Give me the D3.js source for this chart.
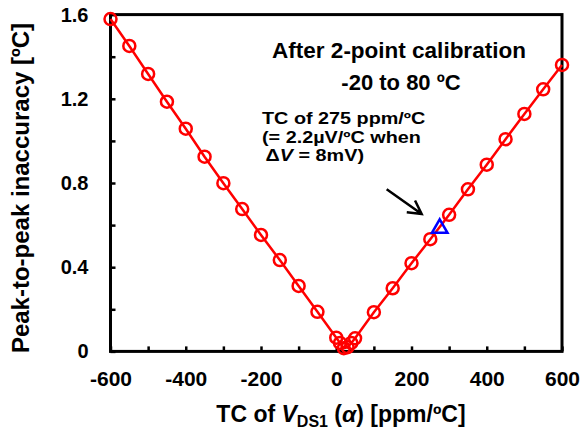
<!DOCTYPE html>
<html>
<head>
<meta charset="utf-8">
<script src="https://cdn.jsdelivr.net/npm/d3@7"></script>
<style>
  body { margin: 0; background: #fff; }
  text { font-family: "Liberation Sans", Arial, sans-serif; font-weight: bold; fill: #000; }
</style>
</head>
<body>
<svg id="chart" width="583" height="434"></svg>
<script>
// TC of V_DS1 [ppm/ºC] and peak-to-peak inaccuracy [ºC]
var tcValues = [-600, -550, -500, -450, -400, -350, -300, -250, -200, -150, -100, -50,
                0, 10, 20, 30, 40, 50,
                100, 150, 200, 250, 300, 350, 400, 450, 500, 550, 600]
var inaccuracy = [1.579, 1.451, 1.318, 1.186, 1.058, 0.925, 0.799, 0.676, 0.553, 0.434, 0.311, 0.188,
                  0.065, 0.040, 0.015, 0.020, 0.040, 0.062,
                  0.186, 0.300, 0.419, 0.533, 0.649, 0.770, 0.887, 1.008, 1.128, 1.245, 1.361]
// highlighted point (275 ppm/ºC)
var markTc = [275]
var markVal = [0.585]

var xTicks = [-600, -500, -400, -300, -200, -100, 0, 100, 200, 300, 400, 500, 600]
var yTicks = [0, 0.2, 0.4, 0.6, 0.8, 1.0, 1.2, 1.4, 1.6]

var noteLines = ["TC of 275 ppm/ºC", "(= 2.2µV/ºC when"]

var svg = d3.select("#chart")

var x = d3.scaleLinear().domain([-600, 600]).range([110.5, 562])
var y = d3.scaleLinear().domain([0, 1.6]).range([351.4, 14.6])

var data = tcValues.map(function (d, i) { return { tc: d, v: inaccuracy[i] } })

// x axis (ticks inside, labels every 200)
var xAxis = svg.append("g")
  .attr("transform", "translate(0," + y(0) + ")")
  .call(d3.axisBottom(x)
    .tickValues(xTicks)
    .tickSizeInner(-5)
    .tickSizeOuter(0)
    .tickPadding(20)
    .tickFormat(function (d) { return d % 200 == 0 ? d : "" }))
xAxis.select(".domain").remove()
xAxis.selectAll("line").attr("stroke", "#000").attr("stroke-width", 2.5)
xAxis.selectAll("text").style("font-size", "21px").attr("font-family", null)

// y axis
var yAxis = svg.append("g")
  .attr("transform", "translate(" + x(-600) + ",0)")
  .call(d3.axisLeft(y)
    .tickValues(yTicks)
    .tickSizeInner(-5)
    .tickSizeOuter(0)
    .tickPadding(22)
    .tickFormat(function (d) { return Math.round(d * 10) % 4 == 0 ? d3.format("")(+d.toFixed(1)) : "" }))
yAxis.select(".domain").remove()
yAxis.selectAll("line").attr("stroke", "#000").attr("stroke-width", 2.5)
yAxis.selectAll("text").style("font-size", "20px").attr("font-family", null)

// frame
svg.append("rect")
  .attr("x", x(-600))
  .attr("y", y(1.6))
  .attr("width", x(600) - x(-600))
  .attr("height", y(0) - y(1.6))
  .attr("fill", "none")
  .attr("stroke", "#000")
  .attr("stroke-width", 3)

// line + circles
var line = d3.line()
  .x(function (d) { return x(d.tc) })
  .y(function (d) { return y(d.v) })

svg.append("path")
  .datum(data)
  .attr("d", line)
  .attr("fill", "none")
  .attr("stroke", "#ff0000")
  .attr("stroke-width", 2.5)

svg.append("g")
  .selectAll("circle")
  .data(data)
  .enter()
  .append("circle")
    .attr("cx", function (d) { return x(d.tc) })
    .attr("cy", function (d) { return y(d.v) })
    .attr("r", 6)
    .attr("fill", "none")
    .attr("stroke", "#ff0000")
    .attr("stroke-width", 2.5)

// blue triangle
svg.append("g")
  .selectAll("path")
  .data(markTc)
  .enter()
  .append("path")
    .attr("d", d3.symbol().type(d3.symbolTriangle).size(105))
    .attr("transform", function (d, i) { return "translate(" + x(d) + "," + y(markVal[i]) + ")" })
    .attr("fill", "none")
    .attr("stroke", "#0000ff")
    .attr("stroke-width", 2.5)

// arrow (data coords)
var arrowFrom = [134, 0.770], arrowTo = [227, 0.653]
var x0 = x(arrowFrom[0]), y0 = y(arrowFrom[1]), x1 = x(arrowTo[0]), y1 = y(arrowTo[1])
var ang = Math.atan2(y1 - y0, x1 - x0)
var headLen = 15, headAng = 0.5
svg.append("path")
  .attr("d", "M" + x0 + "," + y0 + "L" + x1 + "," + y1 +
    "M" + (x1 - headLen * Math.cos(ang - headAng)) + "," + (y1 - headLen * Math.sin(ang - headAng)) +
    "L" + x1 + "," + y1 +
    "L" + (x1 - headLen * Math.cos(ang + headAng)) + "," + (y1 - headLen * Math.sin(ang + headAng)))
  .attr("fill", "none")
  .attr("stroke", "#000")
  .attr("stroke-width", 2.5)

// annotations
svg.append("text").attr("x", 399).attr("y", 58).attr("text-anchor", "middle")
  .style("font-size", "22.5px").text("After 2-point calibration")
svg.append("text").attr("x", 401).attr("y", 90).attr("text-anchor", "middle")
  .style("font-size", "22px").text("-20 to 80 ºC")

// the note text is a bit wide in the original, so stretch it horizontally
var note = svg.append("g").attr("transform", "translate(262,0) scale(1.2,1)")
note.selectAll("text.note")
  .data(noteLines)
  .enter()
  .append("text")
    .attr("class", "note")
    .attr("x", 0)
    .attr("y", function (d, i) { return 124.5 + i * 18.5 })
    .style("font-size", "16.5px")
    .text(function (d) { return d })
var t3 = note.append("text").attr("x", 3).attr("y", 124.5 + 2 * 18.5).style("font-size", "16.5px")
t3.append("tspan").text("Δ")
t3.append("tspan").style("font-style", "italic").text("V")
t3.append("tspan").text(" = 8mV)")

// axis titles
var xt = svg.append("text").attr("x", 341).attr("y", 422).attr("text-anchor", "middle").style("font-size", "23px")
xt.append("tspan").text("TC of ")
xt.append("tspan").style("font-style", "italic").text("V")
xt.append("tspan").attr("dy", 5).style("font-size", "16px").text("DS1")
xt.append("tspan").attr("dy", -5).text(" (")
xt.append("tspan").style("font-style", "italic").text("α")
xt.append("tspan").text(") [ppm/ºC]")

svg.append("text")
  .attr("transform", "translate(29,188) rotate(-90)")
  .attr("text-anchor", "middle")
  .style("font-size", "24px")
  .text("Peak-to-peak inaccuracy [ºC]")
</script>
</body>
</html>
